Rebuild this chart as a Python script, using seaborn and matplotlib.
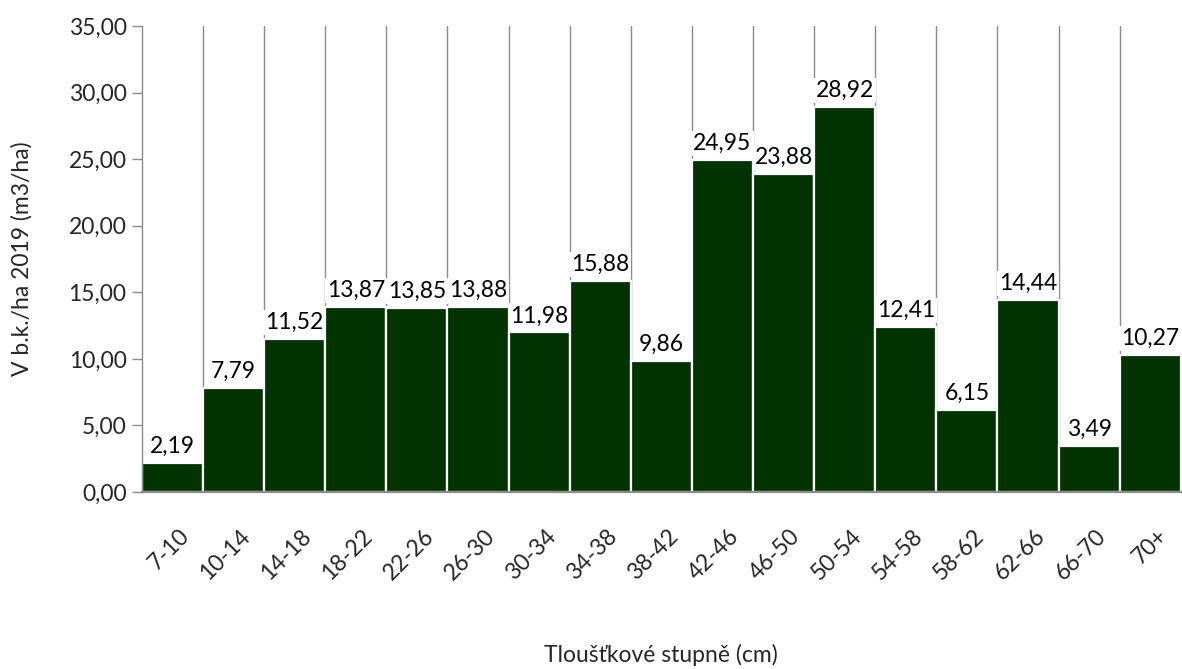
import numpy as np
import pandas as pd
import seaborn as sns
import matplotlib.pyplot as plt
import matplotlib.transforms as mtrans
from matplotlib.ticker import FuncFormatter, FixedLocator


categories = ['7-10', '10-14', '14-18', '18-22', '22-26', '26-30', '30-34', '34-38',
              '38-42', '42-46', '46-50', '50-54', '54-58', '58-62', '62-66', '66-70', '70+']
values = [2.19, 7.79, 11.52, 13.87, 13.85, 13.88, 11.98, 15.88,
          9.86, 24.95, 23.88, 28.92, 12.41, 6.15, 14.44, 3.49, 10.27]

df = pd.DataFrame({'Stupen': categories, 'V': values})

sns.set_theme(style='white')
plt.rcParams['font.family'] = ['Lato', 'DejaVu Sans']

fig = plt.figure(figsize=(11.82, 6.69), dpi=100)
ax = fig.add_axes([0.120, 0.2646, 0.879, 0.6965])

sns.barplot(data=df, x='Stupen', y='V', color='#033303', saturation=1,
            width=1.0, edgecolor='white', linewidth=1.6, ax=ax, zorder=2)

# grid lines between the categories
ax.xaxis.set_minor_locator(FixedLocator(np.arange(len(categories) - 1) + 0.5))
ax.grid(which='minor', axis='x', color='#8c8c8c', linewidth=1.0, zorder=0)
ax.grid(which='major', axis='both', visible=False)
ax.set_axisbelow(True)

ax.set_xlim(-0.5, len(categories) - 0.5)
ax.set_ylim(0, 35)
ax.set_yticks(np.arange(0, 35.1, 5))
ax.yaxis.set_major_formatter(FuncFormatter(lambda v, p: f'{v:.2f}'.replace('.', ',')))

for s in ['top', 'right']:
    ax.spines[s].set_visible(False)
ax.spines['left'].set_color('#8c8c8c')
ax.spines['left'].set_linewidth(1.0)
ax.spines['bottom'].set_color('#8c8c8c')
ax.spines['bottom'].set_linewidth(1.6)

ax.tick_params(axis='y', which='major', direction='out', length=7, width=1,
               color='#8c8c8c', labelsize=16.5, pad=4, left=True)
ax.tick_params(axis='x', which='both', length=0, labelsize=16.5, pad=24)
shift = mtrans.ScaledTranslation(6 / 100, 0, fig.dpi_scale_trans)
for lab in ax.get_xticklabels():
    lab.set_rotation(45)
    lab.set_ha('right')
    lab.set_va('top')
    lab.set_rotation_mode('anchor')
    lab.set_transform(lab.get_transform() + shift)

for i, v in enumerate(values):
    ax.text(i, v + 0.45, f'{v:.2f}'.replace('.', ','), ha='center', va='bottom',
            fontsize=16.5, color='black', zorder=3,
            bbox=dict(facecolor='white', edgecolor='none', pad=1.5))

ax.set_xlabel('Tloušťkové stupně (cm)', fontsize=16.5)
ax.set_ylabel('V b.k./ha 2019 (m3/ha)', fontsize=16.5)
ax.xaxis.set_label_coords(0.5, -0.325)
ax.yaxis.set_label_coords(-0.105, 0.5)

plt.savefig('out.png', dpi=100)
